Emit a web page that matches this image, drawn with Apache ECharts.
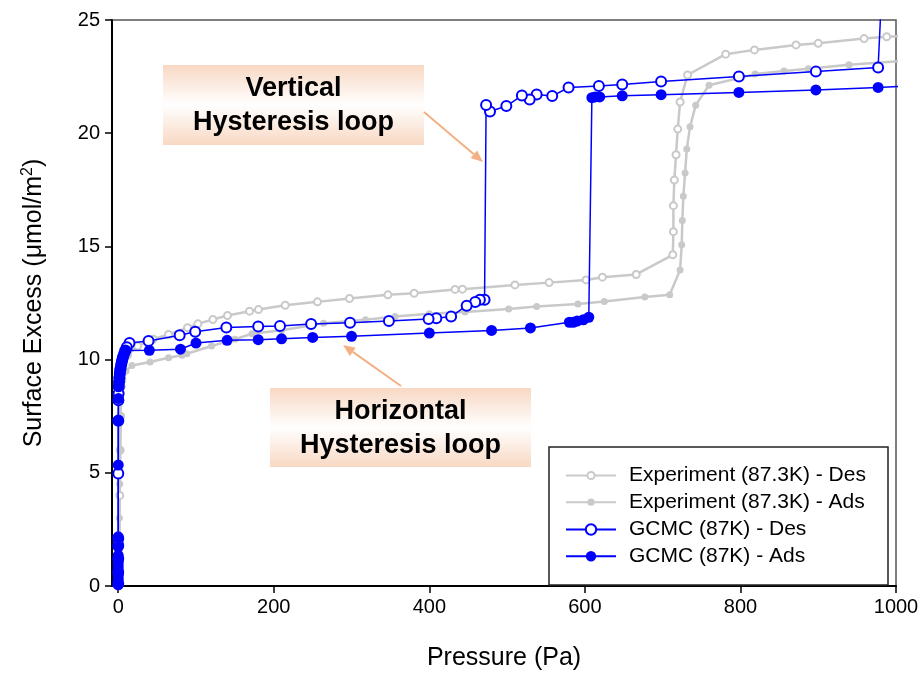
<!DOCTYPE html>
<html>
<head>
<meta charset="utf-8">
<script src="https://cdn.jsdelivr.net/npm/echarts@6/dist/echarts.min.js"></script>
<style>html,body{margin:0;padding:0;background:#fff}#c{width:922px;height:683px}</style>
</head>
<body>
<div id="c"></div>
<script>
// ---- Data (Pressure in Pa, Surface Excess in umol/m2) ----
const xTicks = [0, 200, 400, 600, 800, 1000];
const yTicks = [0, 5, 10, 15, 20, 25];

const seriesNames = [
  'Experiment (87.3K) - Des',
  'Experiment (87.3K) - Ads',
  'GCMC (87K) - Des',
  'GCMC (87K) - Ads'
];

const expDesP = [1020, 988, 959, 900, 871.5, 818, 781, 732, 722.4, 719.4, 717.2, 715, 713.8, 713.8, 713, 666, 622.5, 601.5, 554, 510, 442.5, 433, 380.5, 346.7, 297.3, 256.2, 214.7, 180.3, 168.8, 140.5, 121.7, 102.4, 89.1, 64.7, 45, 25, 12, 6, 4, 3, 2.5, 2, 1.5, 1];
const expDesY = [24.32, 24.26, 24.18, 23.97, 23.9, 23.68, 23.49, 22.57, 21.38, 20.18, 19.05, 17.93, 16.8, 15.65, 14.63, 13.76, 13.64, 13.52, 13.4, 13.3, 13.11, 13.1, 12.93, 12.86, 12.7, 12.55, 12.4, 12.21, 12.14, 11.95, 11.77, 11.58, 11.41, 11.11, 10.9, 10.6, 10.2, 9.6, 8.8, 7.5, 6, 4, 2, 0.5];

const expAdsP = [1, 1, 1.5, 2, 2.5, 3, 4, 6, 10, 17.6, 41, 64.7, 81.9, 88.3, 120, 150, 172, 210, 264, 318, 356, 400, 446, 502, 538, 591, 625, 677, 709, 722.4, 724.5, 725.3, 726.6, 728.8, 731, 735.2, 742.5, 759.6, 818.8, 856, 887.3, 939.6, 1020];
const expAdsY = [0.3, 1.5, 3, 4.5, 6, 7.5, 8.5, 9.1, 9.5, 9.74, 9.89, 10.08, 10.19, 10.26, 10.6, 10.9, 11.14, 11.3, 11.61, 11.76, 11.9, 12.02, 12.1, 12.24, 12.35, 12.46, 12.57, 12.76, 12.86, 13.96, 15.07, 16.14, 17.21, 18.24, 19.3, 20.28, 21.24, 22.12, 22.61, 22.75, 22.85, 23.02, 23.22];

const gcmcDesP = [984, 977, 897, 798, 698, 648, 618, 579, 558, 538, 529, 519, 499, 478, 473, 471, 465, 459, 448, 428, 409, 399, 348, 298, 248, 208, 180, 139, 99, 79, 39, 14.5, 11, 9, 7.5, 6, 5, 4, 3, 2.2, 1.6, 1.1, 0.7, 0.4, 0.25, 0.15, 0.08, 0.05, 0.03, 0.02, 0.01, 0];
const gcmcDesY = [28, 22.9, 22.72, 22.5, 22.28, 22.15, 22.08, 22.02, 21.64, 21.71, 21.49, 21.66, 21.2, 20.96, 21.25, 12.64, 12.64, 12.54, 12.38, 11.9, 11.83, 11.79, 11.7, 11.63, 11.57, 11.48, 11.46, 11.42, 11.23, 11.08, 10.82, 10.73, 10.55, 10.4, 10.25, 10.1, 9.95, 9.8, 9.6, 9.4, 9.2, 9.0, 8.8, 8.5, 8.2, 7.3, 4.97, 2.1, 1.8, 1.2, 0.6, 0.1];

const gcmcAdsP = [0, 0, 0, 0, 0, 0, 0, 0, 0, 0, 0, 0, 0.05, 0.1, 0.2, 0.4, 0.7, 1, 1.5, 2, 3, 4, 5, 6.5, 8, 10, 40, 80, 100, 140, 180, 210, 250, 300, 400, 480, 530, 580, 585, 590, 598, 605, 609, 613, 619, 648, 698, 798, 897, 977, 1020];
const gcmcAdsY = [0.05, 0.15, 0.3, 0.45, 0.6, 0.75, 0.9, 1.05, 1.2, 1.35, 1.73, 2.17, 5.34, 7.32, 8.28, 8.8, 9.0, 9.2, 9.4, 9.55, 9.7, 9.85, 10.0, 10.15, 10.3, 10.4, 10.41, 10.46, 10.73, 10.85, 10.88, 10.92, 10.98, 11.03, 11.17, 11.29, 11.4, 11.65, 11.65, 11.7, 11.76, 11.87, 21.57, 21.6, 21.6, 21.65, 21.7, 21.8, 21.91, 22.02, 22.1];

const annotVertical = ['Vertical', 'Hysteresis loop'];
const annotHorizontal = ['Horizontal', 'Hysteresis loop'];

function pairs(xs, ys) { return xs.map((x, i) => [x, ys[i]]); }

// ---- Styles ----
const FONT = 'Liberation Sans, Arial, sans-serif';
const GRAY = '#c9c9c9';
const BLUE = '#0000ff';
const PEACH = '#f8d8c3';
const ARROW = '#f4b084';

const chart = echarts.init(document.getElementById('c'), null, {renderer: 'canvas'});

function arrow(x1, y1, x2, y2) {
  const dx = x2 - x1, dy = y2 - y1, len = Math.hypot(dx, dy);
  const ux = dx / len, uy = dy / len;
  const hl = 12, hw = 5;
  const bx = x2 - ux * hl, by = y2 - uy * hl;
  return [
    {type: 'line', z: 10, shape: {x1: x1, y1: y1, x2: bx, y2: by}, style: {stroke: ARROW, lineWidth: 2}},
    {type: 'polygon', z: 10, shape: {points: [[x2, y2], [bx - uy * hw, by + ux * hw], [bx + uy * hw, by - ux * hw]]}, style: {fill: ARROW}}
  ];
}

function annotBox(x, y, w, h, lines) {
  const grad = new echarts.graphic.LinearGradient(0, 0, 0, 1, [
    {offset: 0, color: PEACH}, {offset: 0.5, color: '#ffffff'}, {offset: 1, color: PEACH}
  ]);
  const els = [{type: 'rect', z: 9, shape: {x: x, y: y, width: w, height: h}, style: {fill: grad}}];
  const lh = 34;
  lines.forEach((t, i) => {
    els.push({type: 'text', z: 10, x: x + w / 2, y: y + h / 2 + (i - (lines.length - 1) / 2) * lh + 1,
      style: {text: t, font: 'bold 27px ' + FONT, fill: '#000', align: 'center', verticalAlign: 'middle'}});
  });
  return els;
}

const option = {
  backgroundColor: '#fff',
  animation: false,
  grid: {left: 112, right: 26, top: 20, bottom: 97, show: true, borderColor: '#555', borderWidth: 1.5, backgroundColor: 'transparent'},
  xAxis: {
    type: 'value', min: -8, max: 1000,
    name: 'Pressure (Pa)', nameLocation: 'middle', nameGap: 60,
    nameTextStyle: {fontSize: 25, color: '#000', fontFamily: FONT},
    axisLine: {show: true, onZero: false, lineStyle: {color: '#000', width: 2}},
    axisTick: {show: true, inside: false, length: 7, customValues: xTicks, lineStyle: {color: '#000', width: 1.5}},
    axisLabel: {customValues: xTicks, fontSize: 20, color: '#000', fontFamily: FONT, margin: 11,
      formatter: v => String(v)},
    splitLine: {show: false}
  },
  yAxis: {
    type: 'value', min: 0, max: 25, interval: 5,
    name: 'Surface Excess (μmol/m{sup|2})', nameLocation: 'middle', nameGap: 64, nameRotate: 90,
    nameTextStyle: {fontSize: 25, color: '#000', fontFamily: FONT,
      rich: {sup: {fontSize: 16, color: '#000', fontFamily: FONT, verticalAlign: 'top', padding: [0, 0, 12, 0]}}},
    axisLine: {show: true, onZero: false, lineStyle: {color: '#000', width: 2}},
    axisTick: {show: true, inside: false, length: 7, lineStyle: {color: '#000', width: 1.5}},
    axisLabel: {fontSize: 20, color: '#000', fontFamily: FONT, margin: 12, customValues: yTicks,
      formatter: v => String(v)},
    splitLine: {show: false}
  },
  legend: [
    {data: [seriesNames[0], seriesNames[1]], orient: 'vertical', left: 565, top: 465, padding: 0,
      itemWidth: 50, itemHeight: 9, itemGap: 5.7, selectedMode: false,
      textStyle: {fontSize: 21, color: '#000', fontFamily: FONT, padding: [0, 0, 0, 8]}},
    {data: [seriesNames[2], seriesNames[3]], orient: 'vertical', left: 565, top: 519, padding: 0,
      itemWidth: 50, itemHeight: 13, itemGap: 5.7, selectedMode: false,
      textStyle: {fontSize: 21, color: '#000', fontFamily: FONT, padding: [0, 0, 0, 8]}}
  ],
  series: [
    {name: seriesNames[0], type: 'line', data: pairs(expDesP, expDesY), symbol: 'emptyCircle', symbolSize: 7,
      showAllSymbol: true, color: GRAY, lineStyle: {color: GRAY, width: 2.5}, z: 2},
    {name: seriesNames[1], type: 'line', data: pairs(expAdsP, expAdsY), symbol: 'circle', symbolSize: 7,
      showAllSymbol: true, color: GRAY, lineStyle: {color: GRAY, width: 2.5}, z: 2},
    {name: seriesNames[2], type: 'line', data: pairs(gcmcDesP, gcmcDesY), symbol: 'emptyCircle', symbolSize: 10,
      showAllSymbol: true, color: BLUE, lineStyle: {color: BLUE, width: 1.5}, z: 3},
    {name: seriesNames[3], type: 'line', data: pairs(gcmcAdsP, gcmcAdsY), symbol: 'circle', symbolSize: 11,
      showAllSymbol: true, color: BLUE, lineStyle: {color: BLUE, width: 1.5}, z: 3}
  ],
  graphic: {elements: [
    {type: 'rect', z: 3, shape: {x: 549, y: 447, width: 339, height: 138}, style: {fill: '#fff', stroke: '#222', lineWidth: 1.5}},
    ...annotBox(163, 65, 261, 80, annotVertical),
    ...annotBox(270, 388, 261, 79, annotHorizontal),
    ...arrow(424, 112, 483, 162),
    ...arrow(401, 386, 343, 345)
  ]}
};
chart.setOption(option);
</script>
</body>
</html>
